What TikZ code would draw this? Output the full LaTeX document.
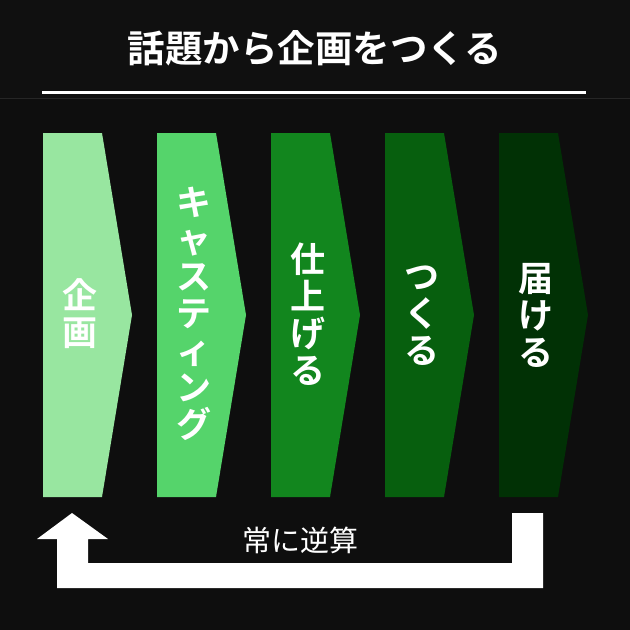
\documentclass[tikz,border=0pt]{standalone}
\usepackage{fontspec}
\newfontfamily\cjk{Noto Sans CJK JP}[BoldFont={Noto Sans CJK JP Bold}]
\definecolor{bgmain}{HTML}{0E0E0E}
\definecolor{bghead}{HTML}{101010}
\definecolor{sepline}{HTML}{262626}
\definecolor{gA}{HTML}{98E6A0}
\definecolor{gB}{HTML}{55D46B}
\definecolor{gC}{HTML}{12861E}
\definecolor{gD}{HTML}{075F0E}
\definecolor{gE}{HTML}{013105}
\tikzset{
  vlabel/.style={text=white, font=\cjk\bfseries\fontsize{35}{37}\selectfont, align=center, inner sep=0pt},
  title/.style={text=white, font=\cjk\bfseries\fontsize{37.5}{40}\selectfont, inner sep=0pt},
  loopfill/.style={fill=white, draw=none},
  looplabel/.style={text=white, font=\cjk\fontsize{29}{32}\selectfont, inner sep=0pt}
}
\begin{document}
\begin{tikzpicture}[x=1pt,y=-1pt]
\fill[bgmain] (0,0) rectangle (630,630);
\useasboundingbox (0,0) rectangle (630,630);
\fill[bghead] (0,0) rectangle (630,98);
\draw[sepline, line width=0.8pt] (0,98) -- (630,98);
\node[title] (t) at (315,48) {話題から企画をつくる};
\draw[white, line width=3pt] (42,92) -- (586,92);
% chevrons
\foreach \i/\c in {0/gA,1/gB,2/gC,3/gD,4/gE}{
  \fill[\c] ({43+114*\i},133) -- ({102+114*\i},133) -- ({132+114*\i},315) -- ({102+114*\i},497) -- ({43+114*\i},497) -- cycle;
}
\node[vlabel] (c1) at (80,314) {企\\画};
\node[vlabel] (c2) at (194,314) {キ\\ャ\\ス\\テ\\ィ\\ン\\グ};
\node[vlabel] (c3) at (308,314) {仕\\上\\げ\\る};
\node[vlabel] (c4) at (422,316) {つ\\く\\る};
\node[vlabel] (c5) at (536,315) {届\\け\\る};
% loop arrow
\fill[loopfill] (72,513) -- (108,539) -- (88,539) -- (88,563) -- (512,563) -- (512,513) -- (543,513) -- (543,588) -- (57,588) -- (57,539) -- (37,539) -- cycle;
\node[looplabel] (l) at (300,540) {常に逆算};
\end{tikzpicture}
\end{document}
